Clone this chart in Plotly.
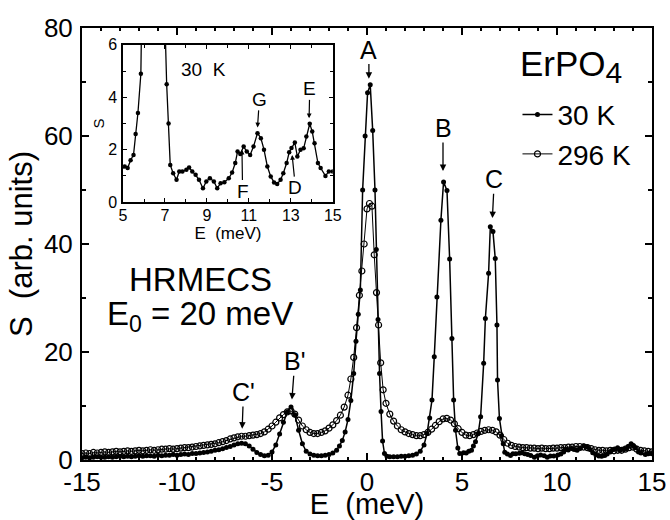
import plotly.graph_objects as go

# ---- data: 30 K (filled dots) ----
E30 = [-15.0, -14.8, -14.6, -14.4, -14.2, -14.0, -13.8, -13.6, -13.4, -13.2, -13.0, -12.8, -12.6, -12.4,
       -12.2, -12.0, -11.8, -11.6, -11.4, -11.2, -11.0, -10.8, -10.6, -10.4, -10.2, -10.0, -9.8, -9.6,
       -9.4, -9.2, -9.0, -8.8, -8.6, -8.4, -8.2, -8.0, -7.8, -7.6, -7.4, -7.2, -7.0, -6.8, -6.6, -6.4,
       -6.2, -6.0, -5.8, -5.6, -5.4, -5.2, -5.0, -4.8, -4.6, -4.4, -4.2, -4.0, -3.8, -3.6, -3.4, -3.2,
       -3.0, -2.8, -2.6, -2.4, -2.2, -2.0, -1.8, -1.6, -1.45, -1.3, -1.15, -1.0, -0.85, -0.7, -0.58,
       -0.46, -0.35, -0.23, -0.1, 0.03, 0.17, 0.3, 0.42, 0.49, 0.58, 0.66, 0.74, 0.82, 0.92, 1.05,
       1.2, 1.4, 1.6, 1.8, 2.0, 2.2, 2.4, 2.6, 2.8, 3.0, 3.16, 3.3, 3.42, 3.54, 3.68, 3.89, 4.03, 4.21,
       4.35, 4.47, 4.56, 4.66, 4.78, 4.88, 5.08, 5.22, 5.36, 5.5, 5.6, 5.71, 5.85, 5.98, 6.14, 6.23,
       6.4, 6.49, 6.63, 6.75, 6.84, 6.87, 6.97, 7.08, 7.17, 7.25, 7.39, 7.55, 7.68, 7.83, 8.02, 8.15,
       8.3, 8.46, 8.62, 8.81, 8.97, 9.14, 9.33, 9.49, 9.65, 9.83, 10.04, 10.2, 10.35, 10.46, 10.59,
       10.75, 10.9, 11.06, 11.22, 11.41, 11.57, 11.72, 11.88, 12.04, 12.2, 12.35, 12.51, 12.64, 12.8,
       12.92, 13.03, 13.19, 13.31, 13.46, 13.61, 13.74, 13.9, 14.02, 14.13, 14.29, 14.42, 14.65,
       14.81, 15.0]
S30 = [0.4, 0.5, 0.4, 0.5, 0.6, 0.5, 0.5, 0.6, 0.5, 0.6, 0.7, 0.6, 0.7, 0.6,
       0.7, 0.8, 0.7, 0.8, 0.8, 0.7, 0.9, 0.8, 0.9, 0.9, 1.0, 0.9, 1.0, 1.1,
       1.0, 1.2, 1.2, 1.3, 1.4, 1.5, 1.6, 1.8, 1.9, 2.1, 2.3, 2.5, 2.8, 3.0, 3.1, 3.0,
       2.6, 2.0, 1.4, 1.0, 0.8, 0.9, 1.5, 2.8, 4.8, 7.0, 8.9, 9.8, 8.4, 5.5, 3.0, 1.6,
       1.1, 0.9, 0.8, 0.8, 0.9, 1.0, 1.3, 1.8, 2.6, 3.6, 5.2, 7.5, 11.0, 16.0, 22.0,
       27.0, 31.5, 50.0, 60.0, 68.0, 69.5, 61.0, 50.0, 39.0, 26.0, 16.0, 9.0, 3.5, 1.2, 0.7,
       0.6, 0.6, 0.6, 0.7, 0.7, 0.8, 0.9, 1.1, 1.6, 2.8, 4.9, 7.8, 11.1, 19.1, 30.2, 44.4, 51.5, 49.9,
       37.2, 22.5, 11.1, 5.5, 2.2, 1.2, 1.36, 1.3, 1.6, 1.8, 2.6, 3.4, 4.9, 8.0, 17.9, 26.2,
       34.6, 43.2, 42.3, 37.3, 25.0, 14.8, 7.7, 4.5, 3.0, 1.42, 1.1, 0.85, 1.17, 1.17, 1.23, 1.32,
       1.17, 1.04, 0.85, 0.53, 0.79, 0.91, 0.79, 0.53, 0.72, 0.76, 0.91, 1.13, 1.49, 1.93, 1.84,
       2.12, 1.93, 1.8, 2.12, 2.63, 2.44, 2.0, 1.36, 0.98, 0.75, 0.69, 0.85, 1.1, 1.49,
       1.9, 2.06, 2.27, 1.74, 2.0, 2.05, 2.5, 2.99, 2.69, 2.25, 1.49, 1.3, 1.0,
       1.17, 1.17]

# ---- data: 296 K (open circles) ----
E296 = [-15.0, -14.8, -14.6, -14.4, -14.2, -14.0, -13.8, -13.6, -13.4, -13.2, -13.0, -12.8, -12.6, -12.4,
        -12.2, -12.0, -11.8, -11.6, -11.4, -11.2, -11.0, -10.8, -10.6, -10.4, -10.2, -10.0, -9.8, -9.6,
        -9.4, -9.2, -9.0, -8.8, -8.6, -8.4, -8.2, -8.0, -7.8, -7.6, -7.4, -7.2, -7.0, -6.8, -6.6, -6.4,
        -6.2, -6.0, -5.8, -5.6, -5.4, -5.2, -5.0, -4.8, -4.6, -4.4, -4.2, -4.0, -3.8, -3.6, -3.4, -3.2,
        -3.0, -2.8, -2.6, -2.4, -2.2, -2.0, -1.8, -1.6, -1.4, -1.2, -1.0, -0.85, -0.7, -0.55, -0.4,
        -0.27, -0.15, 0.0, 0.13, 0.26, 0.38, 0.5, 0.61, 0.72, 0.85, 1.0, 1.2, 1.4, 1.6, 1.8, 2.0, 2.2,
        2.4, 2.6, 2.8, 3.0, 3.2, 3.4, 3.6, 3.8, 4.0, 4.2, 4.4, 4.6, 4.8, 5.0, 5.2, 5.4, 5.6, 5.8, 6.0,
        6.2, 6.4, 6.6, 6.8, 7.0, 7.2, 7.4, 7.6, 7.8, 8.0, 8.2, 8.4, 8.6, 8.8, 9.0, 9.2, 9.4, 9.6, 9.8,
        10.0, 10.2, 10.4, 10.6, 10.8, 11.0, 11.2, 11.4, 11.6, 11.8, 12.0, 12.2, 12.4, 12.6, 12.8, 13.0,
        13.2, 13.4, 13.6, 13.8, 14.0, 14.2, 14.4, 14.6, 14.8, 15.0]
S296 = [1.2, 1.3, 1.2, 1.4, 1.3, 1.4, 1.5, 1.4, 1.5, 1.6, 1.5, 1.6, 1.7, 1.6,
        1.7, 1.8, 1.7, 1.8, 1.9, 1.8, 1.9, 2.0, 2.0, 2.1, 2.0, 2.1, 2.2, 2.3,
        2.3, 2.4, 2.5, 2.6, 2.7, 2.8, 2.9, 3.0, 3.2, 3.4, 3.6, 3.9, 4.1, 4.3, 4.4, 4.4,
        4.5, 4.6, 4.7, 4.9, 5.2, 5.7, 6.3, 7.0, 7.8, 8.4, 8.9, 9.1, 8.5, 7.4, 6.3, 5.6,
        5.1, 4.9, 4.9, 5.1, 5.4, 5.9, 6.5, 7.3, 8.3, 9.8, 12.0, 15.0, 19.0, 24.5, 30.5,
        35.0, 40.0, 46.5, 47.5, 47.0, 38.0, 31.0, 25.0, 18.0, 13.0, 10.5, 8.5, 7.2, 6.3, 5.6, 5.2, 4.9,
        4.7, 4.5, 4.5, 4.7, 5.1, 5.7, 6.4, 7.1, 7.6, 7.7, 7.4, 6.7, 5.8, 5.1, 4.6, 4.5, 4.7, 5.0, 5.3,
        5.5, 5.6, 5.5, 5.2, 4.6, 3.8, 3.1, 2.7, 2.5, 2.4, 2.3, 2.3, 2.2, 2.2, 2.1, 2.2, 2.1, 2.1, 2.2,
        2.2, 2.3, 2.3, 2.4, 2.4, 2.5, 2.5, 2.4, 2.3, 2.1, 1.9, 1.8, 1.8, 1.7, 1.8, 1.7,
        1.8, 1.8, 2.0, 2.3, 2.4, 2.0, 1.8, 1.7, 1.6, 1.5]

X_TICKS = [-15, -10, -5, 0, 5, 10, 15]
Y_TICKS = [0, 20, 40, 60, 80]
INSET_X_TICKS = [5, 7, 9, 11, 13, 15]
INSET_Y_TICKS = [0, 2, 4, 6]

# main peak labels: (text, label x, label y, arrow tip x, arrow tip y)
MAIN_LABELS = [("A", 0.1, 76.0, 0.1, 70.6),
               ("B", 4.0, 61.5, 4.0, 53.5),
               ("C", 6.7, 52.0, 6.6, 44.8),
               ("B'", -3.8, 18.3, -3.95, 11.2),
               ("C'", -6.5, 12.6, -6.57, 5.8)]
# inset labels: (text, label x, label y, arrow tip x, arrow tip y)
INSET_LABELS = [("G", 11.5, 3.92, 11.41, 2.85),
                ("E", 13.9, 4.32, 13.87, 3.2),
                ("F", 10.7, 0.42, 10.67, 2.0),
                ("D", 13.22, 0.55, 13.06, 1.8)]

FONT = "Liberation Sans, Arial, Helvetica, sans-serif"
NBSP = "\u00a0"

fig = go.Figure()
fig.add_trace(go.Scatter(x=E296, y=S296, mode="lines+markers", name="296 K",
                         line=dict(color="black", width=1),
                         marker=dict(symbol="circle-open", size=6, color="black", line=dict(width=1.2))))
fig.add_trace(go.Scatter(x=E30, y=S30, mode="lines+markers", name="30 K",
                         line=dict(color="black", width=1.5),
                         marker=dict(symbol="circle", size=5, color="black")))
fig.add_trace(go.Scatter(x=E30, y=S30, mode="lines+markers", showlegend=False,
                         xaxis="x2", yaxis="y2",
                         line=dict(color="black", width=1.3),
                         marker=dict(symbol="circle", size=4.5, color="black")))

axis_common = dict(showline=True, linecolor="black", mirror="allticks", ticks="inside",
                   tickcolor="black", showgrid=False, zeroline=False, automargin=False)

fig.update_layout(
    width=670, height=520,
    margin=dict(l=82, r=18, t=28, b=60),
    paper_bgcolor="white", plot_bgcolor="white",
    font=dict(family=FONT, color="black"),
    xaxis=dict(range=[-15, 15], tickvals=X_TICKS, ticktext=[str(v) for v in X_TICKS],
               linewidth=2, ticklen=7, tickwidth=1.5, tickfont=dict(size=26), ticklabelstandoff=-2,
               minor=dict(dtick=1, ticks="inside", ticklen=3, tickcolor="black"),
               title=dict(text="E" + NBSP * 2 + "(meV)" + NBSP * 5, font=dict(size=29), standoff=5),
               **axis_common),
    yaxis=dict(range=[0, 80], tickvals=Y_TICKS, linewidth=2, ticklen=7, tickwidth=1.5,
               tickfont=dict(size=26), ticklabelstandoff=2,
               minor=dict(dtick=10, ticks="inside", ticklen=4, tickcolor="black"),
               title=dict(text="S" + NBSP * 2 + "(arb. units)", font=dict(size=31), standoff=2),
               **axis_common),
    xaxis2=dict(domain=[0.072, 0.44], anchor="y2", range=[5, 15], tickvals=INSET_X_TICKS,
                linewidth=1.5, ticklen=4, tickfont=dict(size=16), ticklabelstandoff=-2,
                minor=dict(dtick=1, ticks="inside", ticklen=3, tickcolor="black"),
                title=dict(text="E" + NBSP * 2 + "(meV)", font=dict(size=17), standoff=0),
                **axis_common),
    yaxis2=dict(domain=[0.597, 0.961], anchor="x2", range=[0, 6], tickvals=INSET_Y_TICKS,
                linewidth=1.5, ticklen=4, tickfont=dict(size=16), ticklabelstandoff=1,
                minor=dict(dtick=1, ticks="inside", ticklen=3, tickcolor="black"),
                title=dict(text="S", font=dict(size=15), standoff=0),
                **axis_common),
    legend=dict(x=0.764, y=0.857, xanchor="left", yanchor="top", font=dict(size=28),
                bgcolor="rgba(0,0,0,0)", traceorder="reversed", itemwidth=30, tracegroupgap=0),
    showlegend=True,
)

ann = []
ann.append(dict(text="ErPO<sub><span style='font-size:30px'>4</span></sub>", xref="paper", yref="paper",
                x=0.765, y=0.912, showarrow=False, font=dict(size=35), xanchor="left", yanchor="middle"))
ann.append(dict(text="HRMECS", x=-8.77, y=33.5, showarrow=False, font=dict(size=33),
                xanchor="center", yanchor="middle"))
ann.append(dict(text="E<sub>0</sub> = 20 meV", x=-8.77, y=26.6, showarrow=False, font=dict(size=33),
                xanchor="center", yanchor="middle"))
ann.append(dict(text="30" + NBSP * 2 + "K", x=8.82, y=5.05, xref="x2", yref="y2", showarrow=False,
                font=dict(size=19), xanchor="center", yanchor="middle"))
for t, lx, ly, tx, ty in MAIN_LABELS:
    ann.append(dict(text=t, x=tx, y=ty, ax=lx, ay=ly, axref="x", ayref="y",
                    showarrow=True, arrowhead=2, arrowsize=1, arrowwidth=1.3,
                    arrowcolor="black", standoff=0, borderpad=0, font=dict(size=25)))
for t, lx, ly, tx, ty in INSET_LABELS:
    ann.append(dict(text=t, x=tx, y=ty, ax=lx, ay=ly, xref="x2", yref="y2",
                    axref="x2", ayref="y2", showarrow=True, arrowhead=2, arrowsize=0.8,
                    arrowwidth=1.2, arrowcolor="black", standoff=0, borderpad=0,
                    font=dict(size=19)))
fig.update_layout(annotations=ann)

fig.write_html("out.html")
